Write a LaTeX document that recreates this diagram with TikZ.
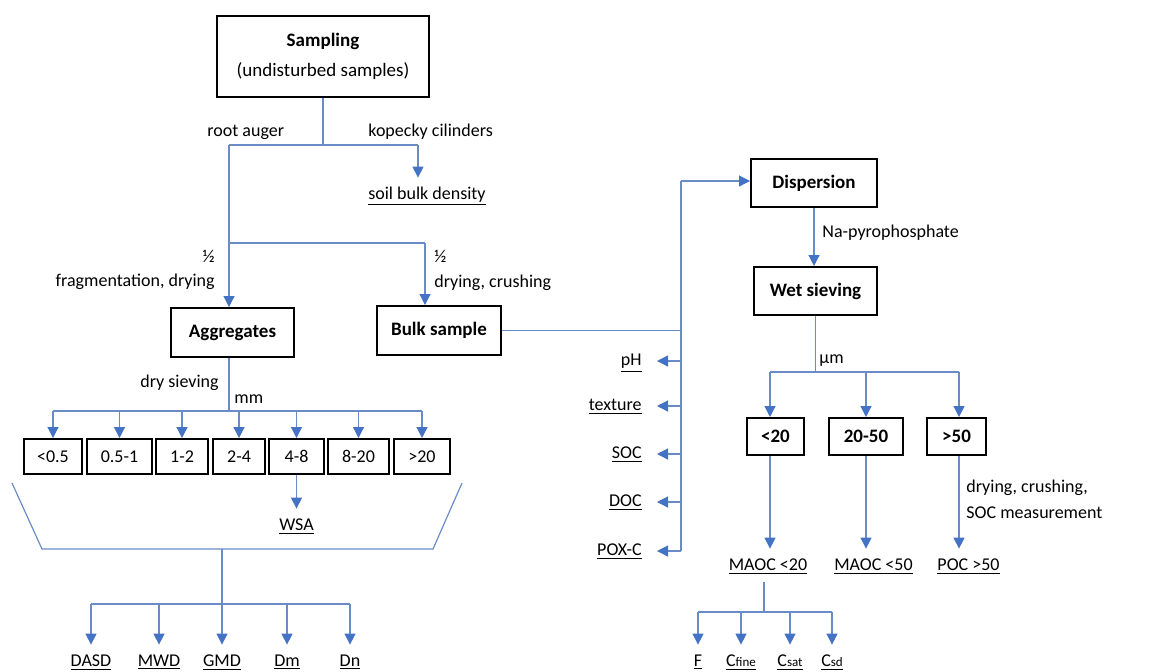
\documentclass[tikz,border=0pt]{standalone}
\usepackage{fontspec}
\setmainfont{Carlito}
\usetikzlibrary{arrows.meta}

\definecolor{wireblue}{HTML}{6A8CC6}
\definecolor{tipblue}{HTML}{4472C4}
\newcommand\diagfont{\fontsize{9}{11}\selectfont}
\newcommand\boxfont{\fontsize{9.5}{11.5}\selectfont\bfseries}
\newcommand\subfont{\fontsize{6.5}{8}\selectfont}

\tikzset{
  stage/.style={draw, line width=1pt, inner sep=0pt, align=center, font=\boxfont},
  bin/.style={draw, line width=1pt, inner sep=0pt, minimum height=17.5pt},
  note/.style={inner sep=0pt},
  result/.style={inner sep=4pt, text height=6.5pt, text depth=2pt, anchor=base},
  wire/.style={draw=wireblue, line width=0.6pt},
  flow/.style={wire, -{Triangle[width=5.5pt, length=5.5pt, color=tipblue]}},
}

\begin{document}
\begin{tikzpicture}[x=0.5pt, y=-0.5pt, every node/.style={font=\diagfont}]

\useasboundingbox (0,0) rectangle (1170,671);

\node [stage, minimum width=106pt, minimum height=40.5pt] (sampling) at (323,56.5)
  {Sampling\\[3.5pt]{\mdseries (undisturbed samples)}};
\node [stage, minimum width=61.5pt, minimum height=24.5pt] (aggregates) at (232.5,332.5) {Aggregates};
\node [stage, minimum width=62pt, minimum height=24.5pt] (bulk) at (439,330.5) {Bulk sample};
\node [stage, minimum width=63pt, minimum height=24pt] (dispersion) at (814,183) {Dispersion};
\node [stage, minimum width=61.5pt, minimum height=24pt] (wet) at (815.5,291) {Wet sieving};

\foreach \name/\txt/\cx/\w in {lt20/<20/775.5/28.5, mid/20-50/866/37, gt50/>50/956.5/29.5}
  \node [stage, minimum width=\w pt, minimum height=18.5pt] (\name) at (\cx,436.5) {\txt};

\foreach \txt/\cx/\w [count=\i] in {<0.5/53/29, 0.5-1/119.5/32.5, 1-2/182/26, 2-4/239/26, 4-8/296.5/27.5, 8-20/358.5/30.5, >20/422/28}
  \node [bin, minimum width=\w pt] (bin-\i) at (\cx,456.5) {\txt};

% sampling
\coordinate (root) at (229,145);
\coordinate (kopecky) at (418,145);
\coordinate (half) at (229,243);
\coordinate (half-r) at (425,243);

\node [note, anchor=base west] (root-lbl) at (207,136) {root auger};
\node [note, anchor=base west] (kopecky-lbl) at (368,136) {kopecky cilinders};
\node [result] (density) at (427,199) {\underline{soil bulk density}};

\draw [wire] (sampling) -- (sampling |- root);
\draw [wire] (root) -- (kopecky);
\draw [flow] (kopecky) -- (kopecky |- density.north);
\draw [wire] (root) -- (half) -- (half-r);
\draw [flow] (half) -- (half |- aggregates.north);
\draw [flow] (half-r) -- (half-r |- bulk.north);

\node [note, anchor=base east] (half-lbl) at (215,262) {½};
\node [note, anchor=base east] (frag-lbl) at (215,286) {fragmentation, drying};
\node [note, anchor=base west] (half-r-lbl) at (434,262) {½};
\node [note, anchor=base west] (crush-lbl) at (434,287) {drying, crushing};

% bulk sample
\coordinate (bus) at (681,181);
\draw [wire] (bulk) -- (bulk -| bus);
\draw [flow] (bus) -- (bus -| dispersion.west);

\foreach \name/\txt/\y in {ph/pH/361, texture/texture/406, soc/SOC/454, doc/DOC/502, poxc/POX-C/551}
{
  \node [result, anchor=east] (\name) at (650,\y) {\underline{\txt}};
  \draw [flow, shorten >=3.5pt] (bus |- \name) -- (\name);
}
\draw [wire] (bus) -- (bus |- poxc);

% wet sieving
\draw [flow] (dispersion) -- (dispersion |- wet.north);
\node [note, anchor=base west] (napp-lbl) at (822,237) {Na-pyrophosphate};

\coordinate (f-left) at (770,372);
\coordinate (f-right) at (959,372);
\draw [wire] (wet) -- (wet |- f-left);
\node [note, anchor=base west] (micro-lbl) at (819,363) {µm};
\draw [wire] (f-left) -- (f-right);
\draw [flow] (f-left) -- (f-left |- lt20.north);
\draw [flow] (mid |- f-left) -- (mid);
\draw [flow] (f-right) -- (f-right |- gt50.north);

\node [result] (maoc20) at (768,570) {\underline{MAOC <20}};
\node [result] (maoc50) at (873.5,570) {\underline{MAOC <50}};
\node [result] (poc50) at (968.5,570) {\underline{POC >50}};
\draw [flow] (f-left |- lt20.south) -- (f-left |- maoc20.north);
\draw [flow] (mid) -- (mid |- maoc50.north);
\draw [flow] (f-right |- gt50.south) -- (f-right |- poc50.north);
\node [note, anchor=base west] (poc-lbl-1) at (966,492) {drying, crushing,};
\node [note, anchor=base west] (poc-lbl-2) at (966,518) {SOC measurement};

\coordinate (c-bus) at (764,612);
\foreach \txt/\cx [count=\i] in {F/698, C{\subfont fine}/741, C{\subfont sat}/790, C{\subfont sd}/832}
  \node [result] (c-\i) at (\cx,666) {\underline{\txt}};
\draw [wire] (maoc20.south -| c-bus) -- (c-bus);
\draw [wire] (c-1 |- c-bus) -- (c-4 |- c-bus);
\foreach \i in {1,...,4}
  \draw [flow] (c-\i |- c-bus) -- (c-\i);

% aggregates
\coordinate (dry) at (229,411);
\draw [wire] (aggregates.south -| dry) -- (dry);
\node [note, anchor=base east] (dry-lbl) at (219,387) {dry sieving};
\node [note, anchor=base west] (mm-lbl) at (234,403) {mm};

\draw [wire] (bin-1 |- dry) -- (bin-7 |- dry);
\foreach \i in {1,...,7}
  \draw [flow] (bin-\i |- dry) -- (bin-\i);
\node [result] (wsa) at (296.5,530) {\underline{WSA}};
\draw [flow] (bin-5) -- (wsa);

\coordinate (fun-tl) at (12,483);
\coordinate (fun-bl) at (42,549);
\coordinate (fun-br) at (433,549);
\coordinate (fun-tr) at (462,483);
\draw [wire] (fun-tl) -- (fun-bl) -- (fun-br) -- (fun-tr);

\coordinate (idx-bus) at (222,604);
\foreach \txt/\cx [count=\i] in {DASD/91, MWD/159, GMD/222, Dm/287, Dn/350}
  \node [result] (idx-\i) at (\cx,666) {\underline{\txt}};
\draw [wire] (idx-1 |- idx-bus) -- (idx-5 |- idx-bus);
\foreach \i in {1,2,4,5}
  \draw [flow] (idx-\i |- idx-bus) -- (idx-\i);
\draw [flow] (idx-3 |- fun-br) -- (idx-3);

\end{tikzpicture}
\end{document}
